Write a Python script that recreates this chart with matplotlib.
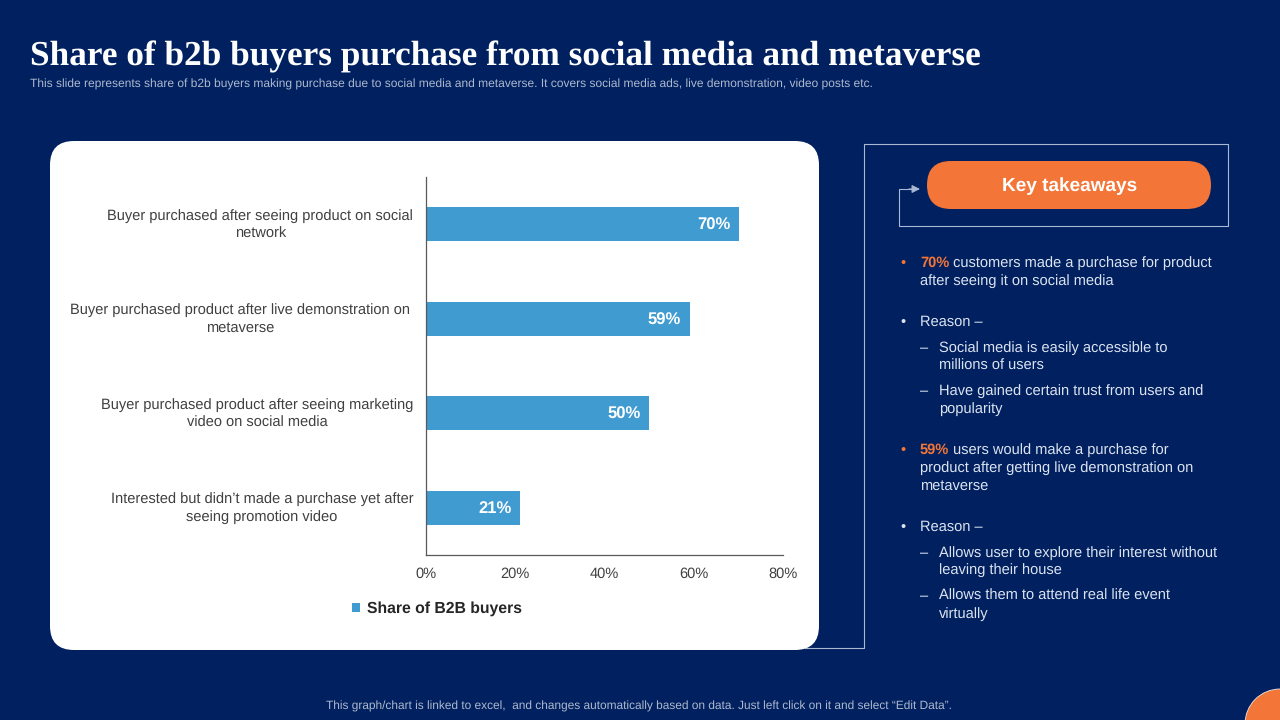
"""Slide: share of b2b buyers purchasing from social media and metaverse."""
import matplotlib

matplotlib.use("Agg")
import matplotlib.pyplot as plt
from matplotlib.patches import Circle, FancyBboxPatch
from matplotlib.ticker import PercentFormatter

plt.rcParams["font.family"] = ["Liberation Sans", "DejaVu Sans"]
plt.rcParams["text.hinting"] = "no_hinting"

BG = "#002060"
ORANGE = "#F37537"
BLUE = "#3F9BD0"
FRAME = "#A9B8D3"
BODY = "#DCE3EF"
MUTED = "#AEB9CE"
INK = "#404040"
BODY_SIZE = 10.55

TITLE = "Share of b2b buyers purchase from social media and metaverse"
SUBTITLE = ("This slide represents share of b2b buyers making purchase due to social media "
            "and metaverse. It covers social media ads, live demonstration, video posts etc.")
FOOTER = ("This graph/chart is linked to excel,  and changes automatically based on data. "
          "Just left click on it and select \u201cEdit Data\u201d.")

categories = [
    "Buyer purchased after seeing product on social\nnetwork",
    "Buyer purchased product after live demonstration on\nmetaverse",
    "Buyer purchased product after seeing marketing\nvideo on social media",
    "Interested but didn\u2019t made a purchase yet after\nseeing promotion video",
]
shares = [70, 59, 50, 21]
x_ticks = [0, 20, 40, 60, 80]
series_name = "Share of B2B buyers"

fig = plt.figure(figsize=(12.8, 7.2), dpi=100, facecolor=BG)

# full-slide axes in pixel coordinates, for the shapes and slide text
bg = fig.add_axes([0, 0, 1, 1])
bg.set_xlim(0, 1280)
bg.set_ylim(720, 0)
bg.axis("off")

bg.text(30, 65, TITLE, family="Liberation Serif", weight="bold", fontsize=25.37,
        color="white", va="baseline")
bg.text(30, 84.5, SUBTITLE, fontsize=8.61, color=MUTED, va="center")
bg.text(639, 706.5, FOOTER, fontsize=8.56, color=MUTED, va="center", ha="center")

bg.add_patch(FancyBboxPatch((50, 141), 769, 509, boxstyle="round,pad=0,rounding_size=24",
                            facecolor="white", edgecolor="none", zorder=1))

# frame around the takeaways, runs behind the white card
bg.plot([805, 864, 864, 1228, 1228, 899, 899, 912], [648, 648, 144, 144, 226, 226, 189, 189],
        color=FRAME, lw=0.8, zorder=0.5)
bg.annotate("", xy=(920, 189), xytext=(909, 189),
            arrowprops=dict(arrowstyle="-|>", color=FRAME, lw=0.8, mutation_scale=12,
                            shrinkA=0, shrinkB=0))

bg.add_patch(FancyBboxPatch((927, 161), 284, 48, boxstyle="round,pad=0,rounding_size=24",
                            facecolor=ORANGE, edgecolor="none", zorder=2))
bg.text(1069.5, 186, "Key takeaways", weight="bold", fontsize=13.7, color="white",
        ha="center", va="center", zorder=3)
bg.add_patch(Circle((1280, 724), 35, facecolor=ORANGE, edgecolor="#E8E8E8", lw=0.6))


def body_line(x, y, text):
    return bg.text(x, y + 1, text, fontsize=BODY_SIZE, color=BODY, va="center")


def highlight_line(x, y, pct, text):
    head = bg.text(x, y + 1, pct, fontsize=BODY_SIZE, weight="bold", color=ORANGE, va="center")
    bg.annotate(" " + text, xy=(1, 0.5), xycoords=head, va="center", fontsize=BODY_SIZE,
                color=BODY)


def bullet(x, y, mark, color=BODY):
    bg.text(x, y + 1, mark, fontsize=BODY_SIZE, color=color, va="center")


bullet(900, 262, "\u2022", ORANGE)
highlight_line(920, 262, "70%", "customers made a purchase for product")
body_line(920, 280, "after seeing it on social media")

bullet(900, 321, "\u2022")
body_line(920, 321, "Reason \u2013")
bullet(920, 347, "\u2013")
body_line(939, 347, "Social media is easily accessible to")
body_line(939, 365, "millions of users")
bullet(920, 390, "\u2013")
body_line(939, 390, "Have gained certain trust from users and")
body_line(939, 408, "popularity")

bullet(900, 449, "\u2022", ORANGE)
highlight_line(920, 449, "59%", "users would make a purchase for")
body_line(920, 467, "product after getting live demonstration on")
body_line(920, 485, "metaverse")

bullet(900, 526, "\u2022")
body_line(920, 526, "Reason \u2013")
bullet(920, 552, "\u2013")
body_line(939, 552, "Allows user to explore their interest without")
body_line(939, 569, "leaving their house")
bullet(920, 595, "\u2013")
body_line(939, 595, "Allows them to attend real life event")
body_line(939, 613, "virtually")

# bar chart
ax = fig.add_axes([425.9 / 1280, 1 - 555 / 720, 357.5 / 1280, 378 / 720])
ax.patch.set_alpha(0)
positions = range(len(categories))
bars = ax.barh(positions, shares, height=0.36, color=BLUE, label=series_name)
ax.set_xlim(0, 80)
ax.set_ylim(3.5, -0.5)
ax.set_xticks(x_ticks)
ax.xaxis.set_major_formatter(PercentFormatter(decimals=0))
ax.tick_params(axis="x", length=0, pad=8.5, labelsize=10.5, labelcolor=INK)
ax.set_yticks([])
for side in ("top", "right"):
    ax.spines[side].set_visible(False)
for side in ("left", "bottom"):
    ax.spines[side].set_color("#595959")
    ax.spines[side].set_linewidth(0.9)

for bar, value in zip(bars, shares):
    ax.annotate(f"{value}%", xy=(value, bar.get_y() + bar.get_height() / 2),
                xytext=(-6, -1.2), textcoords="offset points", ha="right", va="center",
                color="white", weight="bold", fontsize=12)

for i, label in enumerate(categories):
    # second label sits a bit further from the axis in the original
    offset = -11.2 if i == 1 else -9.2
    ax.annotate(label, xy=(0, i), xytext=(offset, -0.3), textcoords="offset points",
                ha="right", va="center", multialignment="center", linespacing=1.36,
                fontsize=10.57, color=INK, annotation_clip=False)

ax.legend(loc="center", bbox_to_anchor=(437 / 1280, 1 - 608.5 / 720),
          bbox_transform=fig.transFigure, frameon=False, handlelength=0.5, handleheight=0.5,
          handletextpad=0.4, prop=dict(weight="bold", size=11.3), labelcolor="#262626")

fig.savefig("out.png", dpi=100, facecolor=BG)
